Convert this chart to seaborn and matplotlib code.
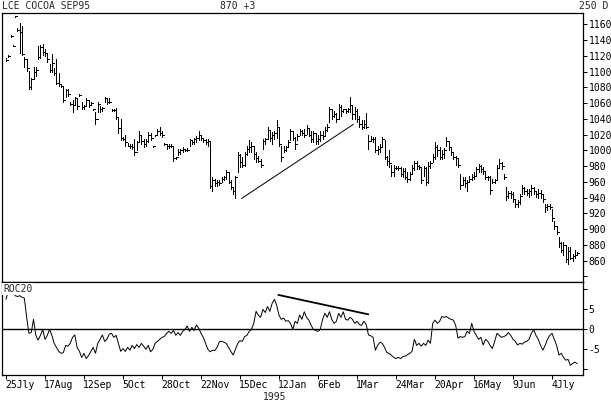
import matplotlib
matplotlib.use("Agg")
import matplotlib.pyplot as plt
import matplotlib.transforms as mtransforms
import numpy as np
import pandas as pd
import seaborn as sns

# daily bars, LCE cocoa Sep95
high = [1117, 1121, 1146, 1134, 1171, 1155, 1161, 1158, 1118, 1116,
        1101, 1092, 1106, 1106, 1133, 1134, 1135, 1128, 1122, 1110,
        1122, 1104, 1116, 1098, 1084, 1080, 1078, 1078, 1062, 1064,
        1068, 1066, 1071, 1062, 1058, 1066, 1064, 1061, 1053, 1049,
        1061, 1056, 1055, 1068, 1067, 1066, 1052, 1052, 1054, 1042,
        1040, 1017, 1019, 1009, 1008, 1008, 1015, 1012, 1024, 1020,
        1015, 1015, 1023, 1022, 1006, 1020, 1027, 1030, 1024, 1009,
        1008, 1008, 1008, 1006, 992, 1002, 1002, 1004, 1002, 1003,
        1015, 1013, 1016, 1018, 1025, 1019, 1016, 1015, 1015, 1012,
        966, 964, 962, 962, 966, 968, 975, 972, 962, 953,
        968, 998, 996, 991, 998, 1006, 1013, 1010, 1006, 998,
        993, 989, 1015, 1016, 1030, 1024, 1023, 1025, 1038, 1028,
        1006, 1006, 1006, 1013, 1027, 1024, 1017, 1021, 1027, 1026,
        1027, 1032, 1028, 1025, 1025, 1022, 1019, 1024, 1025, 1030,
        1034, 1055, 1053, 1050, 1047, 1059, 1058, 1053, 1053, 1054,
        1068, 1058, 1055, 1053, 1044, 1038, 1038, 1047, 1019, 1018,
        1017, 1017, 1006, 1008, 1017, 1013, 993, 1000, 981, 981,
        980, 980, 979, 977, 977, 972, 972, 981, 987, 986,
        982, 977, 980, 979, 985, 987, 996, 1011, 1007, 1004,
        1000, 1003, 1017, 1011, 1004, 998, 993, 990, 970, 966,
        966, 962, 968, 970, 972, 979, 983, 982, 979, 972,
        968, 968, 964, 964, 981, 989, 985, 970, 953, 949,
        949, 947, 937, 937, 945, 956, 954, 951, 951, 956,
        954, 947, 951, 950, 945, 932, 932, 932, 926, 911,
        904, 890, 884, 884, 879, 877, 877, 869, 873, 871]
low = [1113, 1119, 1144, 1132, 1169, 1152, 1124, 1121, 1106, 1101,
       1078, 1078, 1091, 1094, 1116, 1117, 1121, 1120, 1112, 1099,
       1100, 1095, 1084, 1082, 1081, 1061, 1068, 1069, 1057, 1049,
       1058, 1053, 1069, 1053, 1053, 1056, 1055, 1059, 1051, 1034,
       1049, 1049, 1050, 1061, 1059, 1060, 1050, 1050, 1040, 1022,
       1013, 1013, 1006, 1005, 1003, 1002, 994, 1000, 1010, 1008,
       1004, 1006, 1010, 1013, 1004, 1018, 1021, 1020, 1017, 1007,
       1002, 1003, 1004, 987, 989, 994, 996, 998, 999, 999,
       1006, 1008, 1008, 1010, 1013, 1013, 1010, 1008, 1006, 952,
       949, 955, 955, 956, 960, 962, 964, 958, 951, 945,
       939, 972, 979, 979, 980, 994, 998, 998, 989, 985,
       985, 979, 1002, 1008, 1015, 1012, 1008, 1015, 1016, 1006,
       987, 998, 999, 1004, 1013, 1013, 1002, 1013, 1019, 1019,
       1017, 1021, 1018, 1011, 1010, 1008, 1008, 1012, 1015, 1019,
       1025, 1036, 1040, 1042, 1036, 1040, 1044, 1049, 1048, 1049,
       1049, 1040, 1040, 1036, 1030, 1027, 1028, 1028, 1002, 1012,
       1010, 998, 996, 998, 1006, 989, 981, 979, 968, 968,
       976, 975, 968, 966, 964, 960, 962, 970, 975, 976,
       976, 958, 968, 956, 958, 977, 985, 989, 993, 989,
       989, 990, 1006, 1000, 994, 989, 982, 979, 951, 956,
       953, 949, 960, 962, 964, 968, 972, 972, 970, 964,
       962, 945, 958, 958, 964, 977, 976, 964, 937, 939,
       940, 935, 928, 928, 932, 945, 945, 943, 941, 943,
       944, 941, 939, 940, 935, 922, 924, 926, 911, 900,
       894, 878, 871, 867, 858, 856, 862, 860, 864, 867]
close = [1115, 1120, 1145, 1133, 1170, 1153, 1150, 1122, 1116, 1104,
         1080, 1090, 1099, 1102, 1118, 1131, 1125, 1124, 1116, 1102,
         1111, 1098, 1086, 1084, 1082, 1064, 1076, 1072, 1059, 1058,
         1066, 1056, 1070, 1055, 1056, 1064, 1058, 1060, 1052, 1040,
         1059, 1053, 1054, 1066, 1062, 1061, 1051, 1051, 1042, 1028,
         1016, 1015, 1010, 1006, 1005, 1004, 998, 1010, 1020, 1012,
         1008, 1012, 1020, 1016, 1005, 1019, 1025, 1022, 1019, 1008,
         1005, 1006, 1005, 990, 991, 998, 1000, 1002, 1000, 1001,
         1013, 1010, 1014, 1016, 1020, 1016, 1013, 1010, 1012, 955,
         962, 958, 960, 958, 964, 966, 972, 960, 953, 948,
         966, 994, 985, 982, 995, 1002, 1004, 1006, 995, 990,
         987, 982, 1012, 1014, 1026, 1016, 1020, 1022, 1030, 1008,
         992, 1000, 1004, 1010, 1024, 1016, 1008, 1018, 1024, 1022,
         1020, 1028, 1020, 1014, 1022, 1012, 1015, 1020, 1018, 1026,
         1030, 1052, 1044, 1046, 1040, 1055, 1050, 1052, 1050, 1052,
         1058, 1046, 1050, 1040, 1034, 1030, 1034, 1030, 1012, 1015,
         1014, 1000, 1002, 1004, 1014, 992, 986, 984, 972, 978,
         978, 977, 970, 974, 966, 964, 970, 978, 984, 980,
         979, 962, 977, 960, 980, 984, 992, 1004, 1000, 992,
         996, 1000, 1012, 1004, 998, 992, 990, 982, 956, 962,
         958, 960, 964, 966, 968, 976, 980, 976, 974, 966,
         966, 950, 960, 962, 978, 984, 980, 966, 942, 946,
         944, 938, 932, 934, 942, 952, 948, 946, 948, 952,
         948, 944, 946, 944, 938, 928, 930, 928, 914, 904,
         896, 882, 874, 880, 862, 872, 864, 866, 867, 870]
roc20 = [7.5, 9.5, 10.0, 9.5, 8.4, 8.2, 8.4, 8.0, 7.8, 3.0,
         -1.0, -0.8, 2.5, -1.5, -2.7, -1.5, 0.0, -2.5, -1.5, 0.0,
         -1.5, -3.5, -4.5, -5.5, -6.0, -5.8, -4.0, -4.2, -3.5, -2.0,
         -1.4, -4.5, -5.5, -7.0, -6.0, -7.3, -6.5, -5.5, -4.5, -6.0,
         -3.5, -2.5, -1.4, -3.0, -2.5, -1.2, -1.0, -2.0, -1.5, -3.5,
         -5.5, -4.8, -5.5, -4.5, -5.2, -4.0, -4.8, -3.8, -4.5, -3.5,
         -4.2, -5.0, -4.0, -5.6, -5.0, -3.5, -3.0, -2.5, -2.0, -1.8,
         -1.0, -0.5, -1.0, -0.3, -1.5, -0.8, -1.5, -0.5, 0.0, 0.8,
         -0.5, 0.5, -0.3, 1.1, 0.3, -1.0, -2.0, -3.5, -5.0, -5.6,
         -5.2, -5.3, -4.5, -3.1, -3.0, -3.2, -3.5, -4.5, -5.5, -6.4,
         -5.0, -3.5, -2.8, -3.0, -1.8, -1.5, -0.5, 0.0, 1.5, 4.5,
         3.5, 3.0, 5.0, 4.2, 5.7, 4.5, 6.5, 7.5, 6.0, 3.5,
         2.5, 2.8, 2.0, 2.2, 1.5, 0.0, 2.0, 1.5, 3.6, 2.5,
         4.4, 3.0, 2.3, 1.0, 0.0, -0.3, -0.5, 0.0, 2.5, 4.0,
         3.0, 4.4, 2.5, 1.5, 2.0, 4.0, 3.0, 4.4, 2.5, 2.3,
         3.0, 2.5, 1.5, 2.0, 1.2, 1.0, 2.0, 1.2, -1.4, -1.6,
         -2.0, -5.2, -4.0, -3.2, -3.5, -4.5, -5.8, -6.0, -6.5, -7.0,
         -7.3, -7.0, -7.3, -6.8, -6.7, -6.3, -6.0, -5.5, -2.5, -4.0,
         -3.5, -4.2, -3.5, -4.0, -2.7, -3.5, 1.5, 2.3, 1.5, 2.0,
         3.2, 3.0, 3.2, 2.8, 2.5, 2.3, 1.0, -2.2, -1.8, -2.0,
         -1.8, -0.5, -1.0, 1.5, -0.5, -1.5, -2.5, -2.0, -3.9, -2.5,
         -3.0, -4.0, -4.8, -3.0, -1.0, -1.5, -2.0, -1.8, -1.5, -0.8,
         -1.5, -2.5, -3.0, -3.9, -3.5, -3.7, -3.2, -3.0, -2.5, -1.0,
         0.0, -1.5, -2.5, -4.0, -5.2, -4.0, -2.5, -1.5, -1.0, -2.5,
         -4.0, -6.4, -6.0, -7.0, -7.7, -7.5, -9.0, -8.5, -8.2, -8.6]

# date labels every 17 bars, first trading day of 1995 at bar 112
date_labels = ["25Jly", "17Aug", "12Sep", "5Oct", "28Oct", "22Nov", "15Dec",
               "12Jan", "6Feb", "1Mar", "24Mar", "20Apr", "16May", "9Jun", "4Jly"]
date_bars = [0, 17, 34, 51, 68, 85, 102, 119, 136, 153, 170, 187, 204, 221, 238]
year_bar = 112
price_ticks = list(range(840, 1161, 20))
roc_ticks = [-10, -5, 0, 5, 10]

# hand drawn trend lines (bar, value)
price_trend_bar = [102.7, 151.4]
price_trend_val = [939, 1033]
roc_trend_bar = [118.7, 157.9]
roc_trend_val = [8.6, 3.75]

df = pd.DataFrame({"bar": np.arange(len(close)), "high": high, "low": low,
                   "close": close, "roc": roc20})

sns.set_theme(style="white")
plt.rcParams["font.family"] = ["DejaVu Sans Mono", "DejaVu Sans"]
plt.rcParams["font.size"] = 7

W, H = 611, 403
fig = plt.figure(figsize=(W / 100, H / 100), dpi=100)
fig.patch.set_facecolor("white")

left, right = 1.5, 583
ax = fig.add_axes([left / W, 1 - 281.5 / H, (right - left) / W, (281.5 - 13) / H])
ax2 = fig.add_axes([left / W, 1 - 375 / H, (right - left) / W, (375 - 281.5) / H])

px = 0.72  # one pixel in points
xlim = (-1.96, 251.5)

# price bars: high-low line + close tick
ax.vlines(df["bar"], df["low"], df["high"], color="black", lw=px, antialiased=False)
ax.hlines(df["close"], df["bar"], df["bar"] + 0.9, color="black", lw=px, antialiased=False)
ax.plot(price_trend_bar, price_trend_val, color="black", lw=px)
ax.set_xlim(*xlim)
ax.set_ylim(833.6, 1174.3)

# ROC20 panel
ax2.axhline(0, color="black", lw=1.0)
sns.lineplot(data=df, x="bar", y="roc", ax=ax2, color="black", lw=0.7,
             estimator=None)
ax2.plot(roc_trend_bar, roc_trend_val, color="black", lw=1.3)
ax2.set_xlim(*xlim)
ax2.set_ylim(-11.4, 11.95)
ax2.set_xlabel("")
ax2.set_ylabel("")

for a in (ax, ax2):
    a.set_facecolor("white")
    for s in a.spines.values():
        s.set_color("black")
        s.set_linewidth(0.9)
    a.yaxis.tick_right()
    a.tick_params(axis="y", which="both", right=True, left=False, direction="out",
                  length=3, width=px, pad=1, labelsize=7, colors="black")

ax.set_yticks(price_ticks)
ax.set_yticklabels(["" if v == 840 else str(v) for v in price_ticks])
ax.set_xticks(date_bars)
ax.set_xticks([year_bar], minor=True)
ax.tick_params(axis="x", which="both", bottom=True, labelbottom=False, direction="out",
               length=3, width=px, colors="black")

ax2.set_yticks(roc_ticks)
ax2.set_yticklabels(["" if abs(v) == 10 else str(v) for v in roc_ticks])
ax2.set_xticks(date_bars)
ax2.set_xticklabels(date_labels)
ax2.tick_params(axis="x", bottom=True, direction="out", length=3, width=px, pad=0.5,
                labelsize=7, colors="black")
shift = mtransforms.ScaledTranslation(-1 / 100, 0, fig.dpi_scale_trans)
for lbl in ax2.get_xticklabels():
    lbl.set_horizontalalignment("left")
    lbl.set_transform(lbl.get_transform() + shift)

# header and labels
fig.text(2 / W, 1 - 6 / H, "LCE COCOA SEP95", va="center", ha="left", size=7)
fig.text(220 / W, 1 - 6 / H, "870 +3", va="center", ha="left", size=7)
fig.text(608 / W, 1 - 6 / H, "250 D", va="center", ha="right", size=7)
fig.text(3 / W, 1 - 289 / H, "ROC20", va="center", ha="left", size=7,
         bbox=dict(facecolor="white", edgecolor="none", pad=0.6))
fig.text(275 / W, 1 - 397 / H, "1995", va="center", ha="center", size=7)

fig.savefig("out.png", dpi=100, facecolor="white")
